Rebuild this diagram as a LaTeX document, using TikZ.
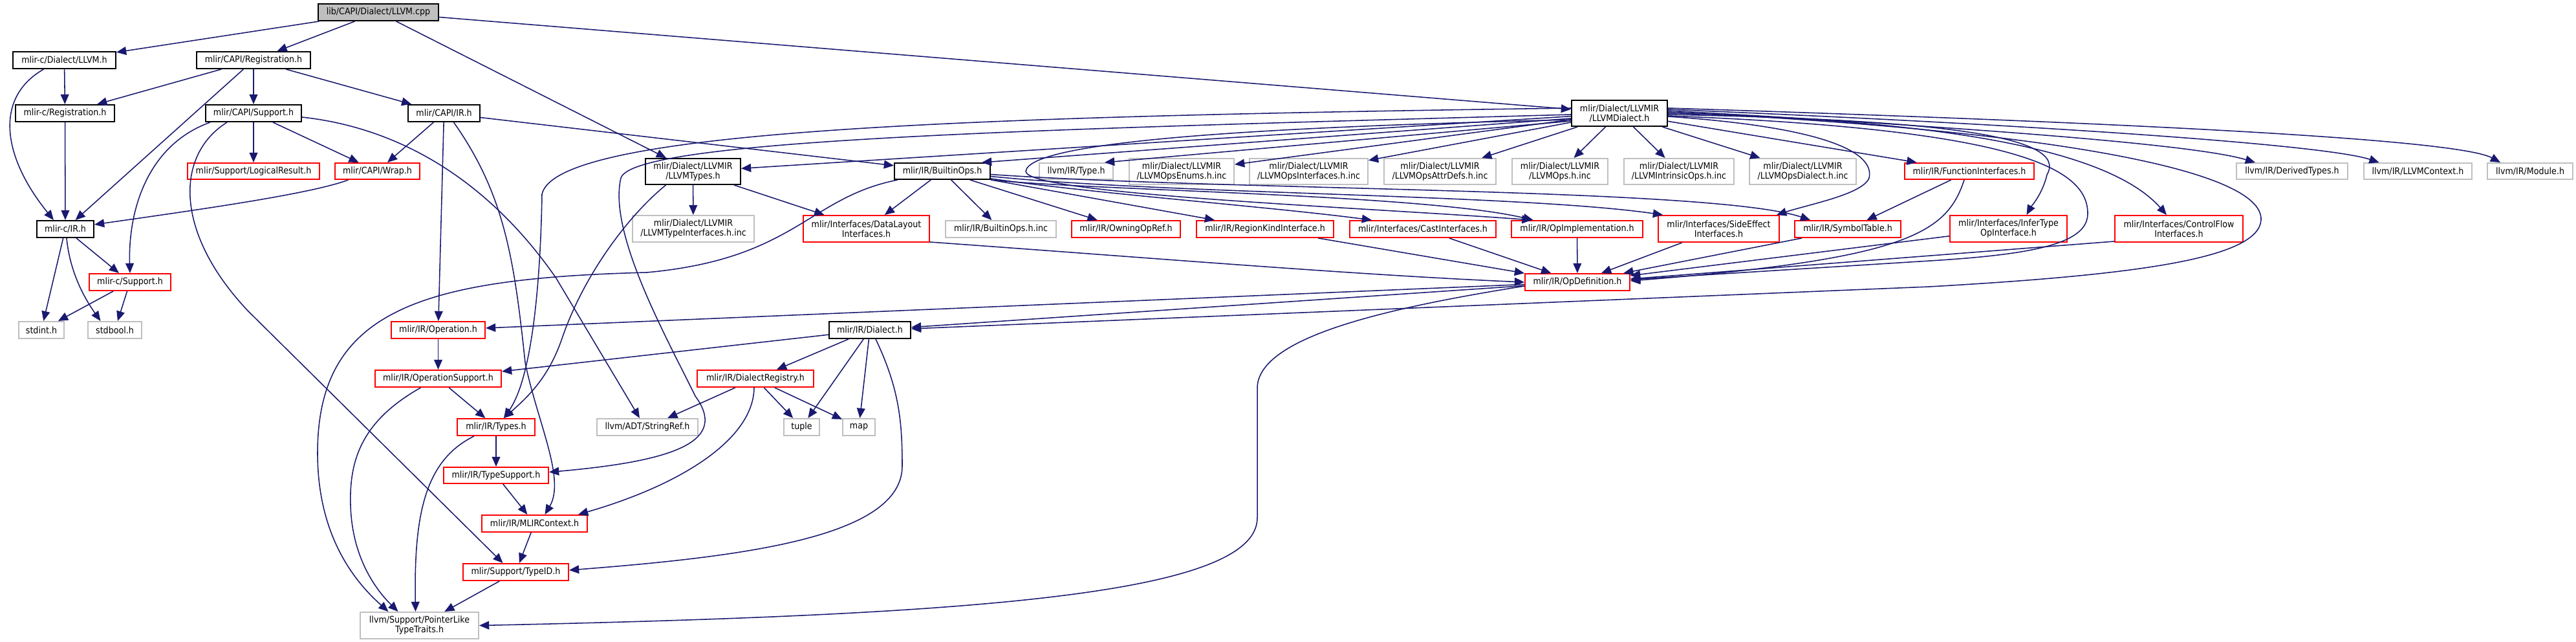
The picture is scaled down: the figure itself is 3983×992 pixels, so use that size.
\documentclass[tikz,border=0pt]{standalone}
\usepackage{fontspec}
\setmainfont{DejaVu Sans}[FakeStretch=0.9]
\usetikzlibrary{arrows.meta,calc}
\definecolor{edgec}{HTML}{191970}
\definecolor{grayb}{HTML}{BFBFBF}
\newcommand{\mknode}[7]{%
 \pgfmathsetmacro{\mkw}{(#5-#3)*0.025}%
 \pgfmathsetmacro{\mkh}{(#6-#4)*0.025}%
 \node[#1, minimum width=\mkw cm, minimum height=\mkh cm] (#2) at ({(#3+#5)/2},{(#4+#6)/2}) {#7};}
\tikzset{
 nbase/.style={rectangle, draw, fill=white, inner sep=0pt, align=center, line width=1.4pt, font=\fontsize{10}{10.7}\selectfont},
 blk/.style={nbase, draw=black},
 redn/.style={nbase, draw=red},
 gry/.style={nbase, draw=grayb},
 topn/.style={nbase, draw=black, fill=grayb},
 dep/.style={draw=edgec, line width=1.1pt, -{Triangle[length=0.38cm,width=0.32cm]}},
}
\begin{document}
\begin{tikzpicture}[x=0.025cm,y=-0.025cm]
\fill[white] (0,0) rectangle (3983,992);
\useasboundingbox (0,0) rectangle (3983,992);
% nodes
\mknode{topn}{top}{492}{6}{678}{32}{lib/CAPI/Dialect/LLVM.cpp}
\mknode{blk}{cdllvm}{20}{80}{179}{106}{mlir-c/Dialect/LLVM.h}
\mknode{blk}{capireg}{304}{80}{480}{106}{mlir/CAPI/Registration.h}
\mknode{blk}{creg}{24}{162}{177}{188}{mlir-c/Registration.h}
\mknode{blk}{capisup}{318}{162}{466}{188}{mlir/CAPI/Support.h}
\mknode{blk}{capiir}{631}{162}{742}{188}{mlir/CAPI/IR.h}
\mknode{redn}{logres}{290}{252}{494}{277}{mlir/Support/LogicalResult.h}
\mknode{redn}{wrap}{518}{252}{649}{277}{mlir/CAPI/Wrap.h}
\mknode{blk}{cir}{57}{341}{145}{367}{mlir-c/IR.h}
\mknode{redn}{csup}{138}{423}{264}{449}{mlir-c/Support.h}
\mknode{gry}{stdint}{29}{497}{99}{523}{stdint.h}
\mknode{gry}{stdbool}{136}{497}{219}{523}{stdbool.h}
\mknode{redn}{operation}{605}{497}{750}{523}{mlir/IR/Operation.h}
\mknode{redn}{opsupport}{580}{572}{775}{598}{mlir/IR/OperationSupport.h}
\mknode{redn}{types}{707}{647}{827}{673}{mlir/IR/Types.h}
\mknode{gry}{stringref}{923}{647}{1079}{673}{llvm/ADT/StringRef.h}
\mknode{redn}{typesupport}{686}{722}{848}{747}{mlir/IR/TypeSupport.h}
\mknode{redn}{mlirctx}{745}{796}{908}{822}{mlir/IR/MLIRContext.h}
\mknode{redn}{typeid}{716}{871}{879}{897}{mlir/Support/TypeID.h}
\mknode{gry}{ptrlike}{557}{946}{740}{987}{llvm/Support/PointerLike\\TypeTraits.h}
\mknode{blk}{llvmtypes}{998}{245}{1145}{285}{mlir/Dialect/LLVMIR\\/LLVMTypes.h}
\mknode{blk}{builtinops}{1383}{252}{1531}{277}{mlir/IR/BuiltinOps.h}
\mknode{gry}{llvmtype}{1607}{252}{1721}{277}{llvm/IR/Type.h}
\mknode{gry}{opsenums}{1746}{245}{1908}{285}{mlir/Dialect/LLVMIR\\/LLVMOpsEnums.h.inc}
\mknode{gry}{opsifaces}{1932}{245}{2115}{285}{mlir/Dialect/LLVMIR\\/LLVMOpsInterfaces.h.inc}
\mknode{gry}{attrdefs}{2140}{245}{2313}{285}{mlir/Dialect/LLVMIR\\/LLVMOpsAttrDefs.h.inc}
\mknode{gry}{opsinc}{2338}{245}{2486}{285}{mlir/Dialect/LLVMIR\\/LLVMOps.h.inc}
\mknode{gry}{intrinsic}{2511}{245}{2681}{285}{mlir/Dialect/LLVMIR\\/LLVMIntrinsicOps.h.inc}
\mknode{gry}{opsdialect}{2705}{245}{2870}{285}{mlir/Dialect/LLVMIR\\/LLVMOpsDialect.h.inc}
\mknode{redn}{funcifaces}{2945}{252}{3145}{277}{mlir/IR/FunctionInterfaces.h}
\mknode{gry}{derived}{3458}{252}{3630}{277}{llvm/IR/DerivedTypes.h}
\mknode{gry}{llvmctx}{3655}{252}{3822}{277}{llvm/IR/LLVMContext.h}
\mknode{gry}{module}{3846}{252}{3978}{277}{llvm/IR/Module.h}
\mknode{gry}{typeifaces}{978}{333}{1166}{374}{mlir/Dialect/LLVMIR\\/LLVMTypeInterfaces.h.inc}
\mknode{redn}{datalayout}{1242}{333}{1437}{374}{mlir/Interfaces/DataLayout\\Interfaces.h}
\mknode{gry}{builtinopsinc}{1462}{341}{1633}{367}{mlir/IR/BuiltinOps.h.inc}
\mknode{redn}{owning}{1657}{341}{1825}{367}{mlir/IR/OwningOpRef.h}
\mknode{redn}{regionkind}{1850}{341}{2062}{367}{mlir/IR/RegionKindInterface.h}
\mknode{redn}{cast}{2087}{341}{2313}{367}{mlir/Interfaces/CastInterfaces.h}
\mknode{redn}{opimpl}{2337}{341}{2540}{367}{mlir/IR/OpImplementation.h}
\mknode{redn}{sideeffect}{2564}{333}{2751}{374}{mlir/Interfaces/SideEffect\\Interfaces.h}
\mknode{redn}{symtable}{2775}{341}{2939}{367}{mlir/IR/SymbolTable.h}
\mknode{redn}{infertype}{3015}{333}{3196}{374}{mlir/Interfaces/InferType\\OpInterface.h}
\mknode{redn}{controlflow}{3270}{333}{3468}{374}{mlir/Interfaces/ControlFlow\\Interfaces.h}
\mknode{redn}{opdef}{2358}{423}{2520}{449}{mlir/IR/OpDefinition.h}
\mknode{blk}{dialect}{1282}{497}{1408}{523}{mlir/IR/Dialect.h}
\mknode{redn}{registry}{1078}{572}{1258}{598}{mlir/IR/DialectRegistry.h}
\mknode{gry}{tuple}{1212}{647}{1267}{673}{tuple}
\mknode{gry}{map}{1303}{647}{1353}{673}{map}
\mknode{blk}{llvmdialect}{2430}{155}{2578}{195}{mlir/Dialect/LLVMIR\\/LLVMDialect.h}
% edges: top file
\draw[dep] (top) -- (cdllvm);
\draw[dep] (top) -- (capireg);
\draw[dep] (top) -- (llvmtypes);
\draw[dep] (top) -- (llvmdialect);
% mlir-c / CAPI
\draw[dep] (cdllvm) -- (creg);
\draw[dep] ($(cdllvm.south)+(-32,0)$) .. controls (-8,150) and (2,240) .. ($(cir.north)+(-18,0)$);
\draw[dep] (capireg) -- (creg);
\draw[dep] (capireg) -- (cir);
\draw[dep] (capireg) -- (capisup);
\draw[dep] (capireg) -- (capiir);
\draw[dep] (creg) -- (cir);
\draw[dep] ($(capisup.south)+(-67,0)$) .. controls (225,225) and (198,330) .. (csup.north);
\draw[dep] (capisup) -- (logres);
\draw[dep] (capisup) -- (wrap);
\draw[dep] ($(capisup.south)+(-41,0)$) .. controls (270,240) and (270,360) .. (383,480) -- ($(typeid.north)+(-20,0)$);
\draw[dep] ($(capisup.east)+(0,6)$) .. controls (640,200) and (770,300) .. (860,430) -- ($(stringref.north)+(-12,0)$);
\draw[dep] (capiir) -- (wrap);
\draw[dep] (capiir) -- (operation);
\draw[dep] ($(capiir.south)+(15,0)$) .. controls (780,300) and (795,400) .. (812,560) .. controls (830,650) and (875,740) .. ($(mlirctx.north)+(16,0)$);
\draw[dep] (capiir) -- (builtinops);
\draw[dep] ($(wrap.south)+(-45,0)$) .. controls (480,300) and (300,325) .. ($(cir.east)+(0,-7)$);
\draw[dep] (cir) -- (stdint);
\draw[dep] ($(cir.south)+(2,0)$) .. controls (108,420) and (130,460) .. ($(stdbool.north)+(-22,0)$);
\draw[dep] (cir) -- (csup);
\draw[dep] (csup) -- (stdint);
\draw[dep] (csup) -- (stdbool);
% IR core
\draw[dep] (operation) -- (opsupport);
\draw[dep] (opsupport) -- (types);
\draw[dep] ($(opsupport.south)+(-27,0)$) .. controls (560,650) and (540,710) .. (542,780) .. controls (544,860) and (580,910) .. ($(ptrlike.north)+(-33,0)$);
\draw[dep] (types) -- (typesupport);
\draw[dep] ($(types.south)+(-34,0)$) .. controls (655,712) and (640,800) .. ($(ptrlike.north)+(-6,0)$);
\draw[dep] (typesupport) -- (mlirctx);
\draw[dep] (mlirctx) -- (typeid);
\draw[dep] (typeid) -- (ptrlike);
% LLVMTypes
\draw[dep] (llvmtypes) -- (typeifaces);
\draw[dep] (llvmtypes) -- (datalayout);
\draw[dep] ($(llvmtypes.south)+(-42,0)$) .. controls (975,330) and (905,420) .. (870,520) .. controls (850,580) and (820,610) .. ($(types.north)+(12,0)$);
% LLVMDialect
\draw[dep] (llvmdialect) -- (llvmtypes);
\draw[dep] ($(llvmdialect.west)+(0,8)$) -- ($(builtinops.north east)+(-14,0)$);
\draw[dep] ($(llvmdialect.west)+(0,12)$) -- ($(llvmtype.north)+(44,0)$);
\draw[dep] (llvmdialect) -- (opsenums);
\draw[dep] (llvmdialect) -- (opsifaces);
\draw[dep] (llvmdialect) -- (attrdefs);
\draw[dep] (llvmdialect) -- (opsinc);
\draw[dep] (llvmdialect) -- (intrinsic);
\draw[dep] (llvmdialect) -- (opsdialect);
\draw[dep] (llvmdialect) -- (funcifaces);
\draw[dep] ($(llvmdialect.east)+(0,-4)$) .. controls (3100,200) and (3400,225) .. ($(derived.north)+(-57,0)$);
\draw[dep] ($(llvmdialect.east)+(0,-6)$) .. controls (3200,195) and (3600,225) .. ($(llvmctx.north)+(-60,0)$);
\draw[dep] ($(llvmdialect.east)+(0,-8)$) .. controls (3300,190) and (3800,215) .. ($(module.north)+(-46,0)$);
\draw[dep] ($(llvmdialect.east)+(0,2)$) .. controls (3000,185) and (3200,210) .. (3165,270) .. controls (3158,300) and (3140,320) .. ($(infertype.north)+(28,0)$);
\draw[dep] ($(llvmdialect.east)+(0,4)$) .. controls (3120,200) and (3228,260) .. (3228,330) .. controls (3228,375) and (3150,392) .. (3000,402) -- ($(opdef.east)+(0,-4)$);
\draw[dep] (llvmdialect.east) .. controls (3000,185) and (3260,230) .. ($(controlflow.north)+(-19,0)$);
\draw[dep] ($(llvmdialect.east)+(0,-2)$) .. controls (3150,200) and (3500,260) .. (3496,340) .. controls (3492,400) and (3300,425) .. (2983,443) -- ($(dialect.east)+(0,-2)$);
\draw[dep] ($(llvmdialect.east)+(0,5)$) .. controls (2800,195) and (2900,230) .. (2890,275) .. controls (2880,300) and (2800,315) .. ($(sideeffect.north east)+(-5,0)$);
\draw[dep] ($(llvmdialect.west)+(0,10)$) .. controls (2000,195) and (1590,215) .. (1586,265) .. controls (1590,300) and (2100,320) .. ($(opimpl.north)+(-70,0)$);
\draw[dep] ($(llvmdialect.west)+(0,-8)$) .. controls (1500,180) and (860,200) .. (838,300) .. controls (836,420) and (825,580) .. ($(types.north)+(12,0)$);
\draw[dep] ($(llvmdialect.west)+(0,2)$) .. controls (1600,200) and (980,215) .. (960,275) .. controls (940,360) and (1030,520) .. (1075,612) .. controls (1125,680) and (1050,712) .. ($(typesupport.east)+(0,-5)$);
% BuiltinOps
\draw[dep] ($(builtinops.south west)+(6,0)$) .. controls (1250,305) and (1230,400) .. (1000,421) .. controls (650,430) and (491,480) .. (491,700) .. controls (491,830) and (550,900) .. ($(ptrlike.north)+(-48,0)$);
\draw[dep] (builtinops) -- (datalayout);
\draw[dep] (builtinops) -- (builtinopsinc);
\draw[dep] (builtinops) -- (owning);
\draw[dep] (builtinops) -- (regionkind);
\draw[dep] ($(builtinops.south east)+(0,-2)$) .. controls (1700,300) and (1950,318) .. ($(cast.north west)+(35,0)$);
\draw[dep] (builtinops.south east) .. controls (1700,295) and (2200,300) .. ($(opimpl.north)+(-68,0)$);
\draw[dep] ($(builtinops.east)+(0,8)$) .. controls (1800,300) and (2350,300) .. ($(sideeffect.north west)+(8,0)$);
\draw[dep] ($(builtinops.east)+(0,5)$) .. controls (1900,295) and (2650,290) .. ($(symtable.north west)+(25,0)$);
% into OpDefinition
\draw[dep] ($(datalayout.south east)+(0,-1)$) .. controls (1800,400) and (2100,425) .. (opdef.west);
\draw[dep] (regionkind) -- (opdef);
\draw[dep] (cast) -- (opdef);
\draw[dep] (opimpl) -- (opdef);
\draw[dep] (sideeffect) -- (opdef);
\draw[dep] (symtable) -- (opdef);
\draw[dep] (funcifaces) -- (symtable);
\draw[dep] ($(funcifaces.south)+(-8,0)$) .. controls (3010,360) and (2950,400) .. ($(opdef.east)+(0,-2)$);
\draw[dep] (infertype) -- (opdef);
\draw[dep] ($(controlflow.south west)+(0,-2)$) -- ($(opdef.east)+(0,-5)$);
% from OpDefinition
\draw[dep] (opdef) -- (operation);
\draw[dep] (opdef) -- (dialect);
\draw[dep] ($(opdef.west)+(0,6)$) .. controls (2150,475) and (1944,520) .. (1944,600) -- (1944,800) .. controls (1944,920) and (1500,950) .. (ptrlike.east);
% Dialect
\draw[dep] (dialect) -- (registry);
\draw[dep] (dialect) -- (tuple);
\draw[dep] (dialect) -- (map);
\draw[dep] ($(dialect.south)+(9,0)$) .. controls (1390,600) and (1395,650) .. (1395,720) .. controls (1395,830) and (1150,860) .. ($(typeid.east)+(0,-3)$);
\draw[dep] (dialect) -- (opsupport);
% DialectRegistry
\draw[dep] (registry) -- (stringref);
\draw[dep] (registry) -- (tuple);
\draw[dep] (registry) -- (map);
\draw[dep] ($(registry.south)+(-2,0)$) .. controls (1165,680) and (1050,750) .. ($(mlirctx.north east)+(-15,0)$);
\end{tikzpicture}
\end{document}
